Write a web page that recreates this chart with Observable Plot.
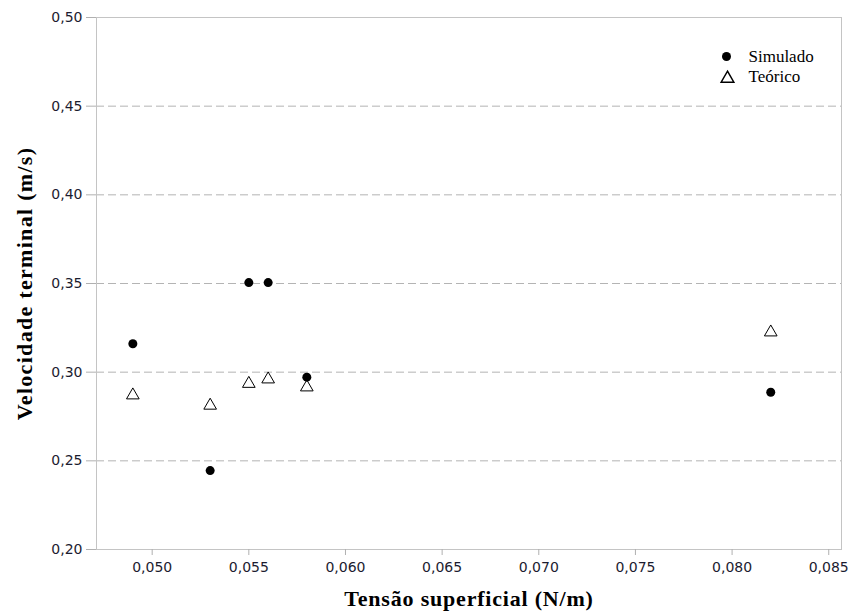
<!DOCTYPE html>
<html><head><meta charset="utf-8">
<script src="https://cdn.jsdelivr.net/npm/d3@7"></script>
<script src="https://cdn.jsdelivr.net/npm/@observablehq/plot@0.6"></script>
<style>body{margin:0;background:#fff}</style></head>
<body><div id="chart"></div>
<script>
const tension = [0.049, 0.053, 0.055, 0.056, 0.058, 0.082];
const simulado = [0.3160, 0.2445, 0.3505, 0.3505, 0.2972, 0.2887];
const teorico = [0.2870, 0.2812, 0.2935, 0.2960, 0.2915, 0.3225];
const xTicks = [0.050, 0.055, 0.060, 0.065, 0.070, 0.075, 0.080, 0.085];
const yTicks = [0.20, 0.25, 0.30, 0.35, 0.40, 0.45, 0.50];
const seriesNames = ["Simulado", "Teórico"];
const xTitle = "Tensão superficial (N/m)";
const yTitle = "Velocidade terminal (m/s)";

const loc = d3.formatLocale({decimal: ",", thousands: ".", grouping: [3], currency: ["", ""]});
const fx = loc.format(".3f"), fy = loc.format(".2f");

const sim = tension.map((t, i) => ({t, v: simulado[i]}));
const teo = tension.map((t, i) => ({t, v: teorico[i]}));

const chart = Plot.plot({
  width: 850, height: 613,
  marginLeft: 96, marginRight: 9, marginTop: 17, marginBottom: 64,
  style: {fontFamily: "DejaVu Sans", fontSize: "14px", background: "#fff"},
  x: {domain: [0.04712, 0.08566]},
  y: {domain: [0.20, 0.50]},
  marks: [
    Plot.gridY(yTicks.filter(v => v > 0.201 && v < 0.499), {stroke: "#b4b4b4", strokeOpacity: 1, strokeDasharray: "8,4"}),
    Plot.frame({stroke: "#c4c4c4"}),
    Plot.axisY(yTicks, {tickSize: 10, tickPadding: 4, tickFormat: fy, stroke: "#b0b0b0", fill: "#1c1c30", label: null}),
    Plot.axisX(xTicks, {tickSize: 6, tickPadding: 7, tickFormat: fx, stroke: "#b0b0b0", fill: "#1c1c30", label: null}),
    Plot.dot(teo, {x: "t", y: "v", symbol: "triangle", r: 4.7, fill: "white", stroke: "black", strokeWidth: 1}),
    Plot.dot(sim, {x: "t", y: "v", symbol: "circle", r: 4.5, fill: "black"}),
    Plot.text([xTitle], {frameAnchor: "bottom", dy: 49, textAnchor: "middle", lineAnchor: "middle", fontFamily: "Liberation Serif", fontWeight: "bold", fontSize: 22, fill: "black", style: "letter-spacing:0.8px"}),
    Plot.text([yTitle], {frameAnchor: "left", dx: -72, rotate: -90, textAnchor: "middle", lineAnchor: "middle", fontFamily: "Liberation Serif", fontWeight: "bold", fontSize: 22, fill: "black"}),
    Plot.dot([seriesNames[0]], {frameAnchor: "top-right", dx: -115, dy: 39, symbol: "circle", r: 4.5, fill: "black"}),
    Plot.dot([seriesNames[1]], {frameAnchor: "top-right", dx: -114, dy: 61, symbol: "triangle", r: 4.7, fill: "white", stroke: "black"}),
    Plot.text([seriesNames[0]], {frameAnchor: "top-right", dx: -93, dy: 39, textAnchor: "start", lineAnchor: "middle", fontFamily: "Liberation Serif", fontSize: 17, fill: "black"}),
    Plot.text([seriesNames[1]], {frameAnchor: "top-right", dx: -93, dy: 59, textAnchor: "start", lineAnchor: "middle", fontFamily: "Liberation Serif", fontSize: 17, fill: "black"})
  ]
});
const texts = chart.querySelectorAll("text");
texts.forEach(t => {
  if (t.textContent === yTitle) t.setAttribute("letter-spacing", "1.3px");
  if (t.textContent === xTitle) t.setAttribute("letter-spacing", "0.8px");
});
document.getElementById("chart").appendChild(chart);
</script>
</body></html>
